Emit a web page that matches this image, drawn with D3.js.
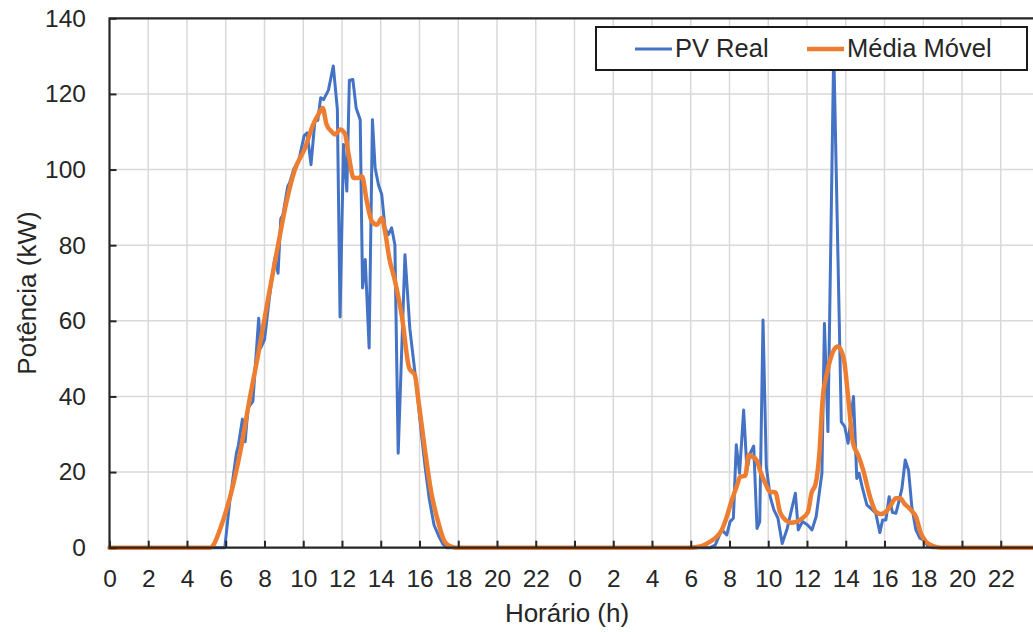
<!DOCTYPE html>
<html>
<head>
<meta charset="utf-8">
<script src="https://cdn.jsdelivr.net/npm/d3@7"></script>
<style>
body { margin: 0; background: #fff; }
text { font-family: "Liberation Sans", Arial, sans-serif; fill: #262626; }
</style>
</head>
<body>
<div id="chart"></div>
<script>
// PV Real (hora acumulada, kW) - segundo dia = 24 + h
var pvHours = [0, 5.75, 5.95, 6.2, 6.55, 6.65, 6.86, 7.0, 7.15, 7.4, 7.7, 7.8, 8.0, 8.25, 8.53, 8.7, 8.84, 8.95, 9.2, 9.3,
	9.53, 9.75, 10.05, 10.2, 10.4, 10.6, 10.75, 10.9, 11.05, 11.3, 11.55, 11.76, 11.9, 12.08, 12.25, 12.38, 12.56, 12.73, 12.94, 13.06,
	13.2, 13.4, 13.57, 13.71, 13.88, 14.05, 14.22, 14.39, 14.56, 14.73, 14.9, 15.25, 15.5, 15.75, 15.9, 16.1, 16.3, 16.5, 16.75, 17.0,
	17.2, 17.4,
	31.0, 31.26, 31.6, 31.86, 32.03, 32.2, 32.35, 32.52, 32.73, 32.9, 33.07, 33.25, 33.42, 33.56, 33.73, 33.9, 34.1, 34.29, 34.5, 34.72,
	34.98, 35.2, 35.4, 35.55, 35.77, 36.03, 36.26, 36.47, 36.77, 36.9, 37.08, 37.38, 37.77, 37.95, 38.12, 38.4, 38.57, 38.69, 38.85, 39.09,
	39.38, 39.55, 39.76, 39.9, 40.07, 40.24, 40.41, 40.59, 40.76, 40.9, 41.07, 41.24, 41.41, 41.62, 41.83, 42.05, 42.26, 42.5, 47.83];
var pvValues = [0, 0, 0, 12, 25, 27, 34, 28, 37, 38.7, 60.7, 52.8, 55, 66, 76.6, 72.6, 87, 88, 95.6, 96.5,
	100.4, 102, 109, 109.7, 101.3, 112.8, 113, 119, 118.5, 121, 127.4, 116, 61, 106.6, 94.3, 123.6, 123.8, 116.3, 113.2, 68.7,
	76.2, 52.8, 113.2, 100.4, 96, 93.4, 84.6, 82.8, 84.6, 80.1, 25, 77.5, 58, 47, 40, 30, 21, 13, 6, 3,
	1, 0,
	0, 0.7, 4.7, 3.4, 6.9, 7.8, 27.2, 19.7, 36.4, 20.5, 25, 26.9, 5.1, 6.9, 60.2, 21.4, 13.5, 10, 7.8, 1.1,
	5.1, 10, 14.4, 4.7, 6.9, 6, 4.7, 8.2, 19.7, 59.3, 30.7, 132, 33.3, 32, 27.6, 40, 18.3, 19.7, 16, 11.3,
	10, 9.1, 4, 7.3, 7.3, 13.5, 9.3, 9.1, 12.6, 15.7, 23.2, 20.5, 10.8, 4.7, 2.5, 1.9, 0.3, 0, 0];

// Média Móvel
var mmHours = [0, 5.2, 5.4, 5.6, 5.95, 6.38, 6.81, 7.24, 7.67, 8.19, 8.7, 9.14, 9.57, 10.09, 10.52, 10.78, 11.0, 11.2, 11.47, 11.64,
	11.9, 12.15, 12.34, 12.6, 12.85, 13.03, 13.28, 13.54, 13.8, 14.05, 14.22, 14.44, 14.74, 15.08, 15.47, 15.62, 15.76, 15.93, 16.27, 16.6,
	16.96, 17.3, 17.64, 17.9,
	29.96, 30.48, 31.0, 31.34, 31.6, 31.86, 32.12, 32.38, 32.55, 32.81, 32.99, 33.16, 33.39, 33.6, 33.85, 34.08, 34.37, 34.6, 34.9, 35.15,
	35.46, 35.76, 36.05, 36.23, 36.45, 36.64, 36.82, 36.99, 37.22, 37.39, 37.6, 37.91, 38.12, 38.38, 38.64, 38.9, 39.25, 39.55, 39.81, 40.07,
	40.33, 40.59, 40.81, 41.02, 41.36, 41.62, 41.88, 42.14, 42.48, 42.91, 47.83];
var mmValues = [0, 0, 1, 3.4, 8.6, 16.6, 27, 39.5, 51, 66, 80, 91.6, 100, 105.7, 112, 114.6, 116.3, 112, 110, 109.3,
	110.6, 109.5, 104, 97.8, 97.8, 98.2, 91.6, 86.3, 85.4, 87.2, 83.7, 76.6, 70.4, 61.6, 47.5, 46.5, 45.7, 39.5, 26.3, 14.8,
	6.9, 1.6, 0.3, 0,
	0, 0.3, 1.6, 2.9, 4.7, 8.2, 12.6, 16.3, 18.8, 19, 24.5, 24.1, 23.2, 20.1, 17, 14.8, 14.6, 9.5, 7.3, 6.6,
	6.9, 7.8, 9.5, 14.4, 17, 25, 40, 45.2, 50.1, 52.3, 53.2, 49.6, 40, 27.6, 24.5, 20.5, 13.5, 9.5, 8.9, 9.5,
	11.3, 13.1, 13.1, 11.7, 10, 8.2, 3.8, 1.6, 0.5, 0, 0];

var hourTicks = [0, 2, 4, 6, 8, 10, 12, 14, 16, 18, 20, 22, 24, 26, 28, 30, 32, 34, 36, 38, 40, 42, 44, 46];
var powerTicks = [0, 20, 40, 60, 80, 100, 120, 140];
var seriesNames = ["PV Real", "Média Móvel"];
var seriesColors = ["#4472C4", "#ED7D31"];

var W = 1033, H = 632;
var plotLeft = 109.5, plotTop = 18.3, plotBottom = 547.7;

var xScale = d3.scaleLinear()
				.domain([0, 48])
				.range([plotLeft, plotLeft + 48 * 19.375]);

var yScale = d3.scaleLinear()
				.domain([0, 140])
				.range([plotBottom, plotTop]);

var svg = d3.select("#chart").append("svg")
			.attr("width", W)
			.attr("height", H);

// gridlines
svg.append("g")
	.selectAll("line")
		.data(hourTicks.slice(1))
		.enter().append("line")
			.attr("x1", function(d) { return xScale(d); })
			.attr("x2", function(d) { return xScale(d); })
			.attr("y1", plotTop)
			.attr("y2", plotBottom)
			.style("stroke", "#d9d9d9")
			.style("stroke-width", 1.5);

svg.append("g")
	.selectAll("line")
		.data(powerTicks.slice(1, -1))
		.enter().append("line")
			.attr("x1", plotLeft)
			.attr("x2", W)
			.attr("y1", function(d) { return yScale(d); })
			.attr("y2", function(d) { return yScale(d); })
			.style("stroke", "#d9d9d9")
			.style("stroke-width", 1.5);

// series
var pvData = pvHours.map(function(h, i) { return [h, pvValues[i]]; });
var mmData = mmHours.map(function(h, i) { return [h, mmValues[i]]; });

var pvLine = d3.line()
			.x(function(d) { return xScale(d[0]); })
			.y(function(d) { return yScale(d[1]); });

var mmLine = d3.line()
			.curve(d3.curveMonotoneX)
			.x(function(d) { return xScale(d[0]); })
			.y(function(d) { return yScale(d[1]); });

svg.append("path")
	.datum(pvData)
	.attr("d", pvLine)
	.style("fill", "none")
	.style("stroke", seriesColors[0])
	.style("stroke-width", 3)
	.style("stroke-linejoin", "round");

svg.append("path")
	.datum(mmData)
	.attr("d", mmLine)
	.style("fill", "none")
	.style("stroke", seriesColors[1])
	.style("stroke-width", 4.5)
	.style("stroke-linejoin", "round")
	.style("stroke-linecap", "round");

// axes
var xAxis = svg.append("g")
	.attr("transform", "translate(0," + plotBottom + ")")
	.call(d3.axisBottom(xScale)
		.tickValues(hourTicks)
		.tickFormat(function(d) { return d % 24; })
		.tickSizeInner(-7)
		.tickSizeOuter(0)
		.tickPadding(21.5));

var yAxis = svg.append("g")
	.attr("transform", "translate(" + plotLeft + ",0)")
	.call(d3.axisLeft(yScale)
		.tickValues(powerTicks)
		.tickSizeInner(-7)
		.tickSizeOuter(0)
		.tickPadding(23.5));

[xAxis, yAxis].forEach(function(a) {
	a.selectAll("path").remove();
	a.selectAll("line").style("stroke", "#262626").style("stroke-width", 2);
	a.selectAll("text")
		.style("font-size", "24.5px")
		.style("font-family", "'Liberation Sans', Arial, sans-serif")
		.style("fill", "#262626");
});

// plot border
svg.append("path")
	.attr("d", "M" + W + "," + plotTop + "H" + plotLeft + "V" + plotBottom + "H" + W)
	.style("fill", "none")
	.style("stroke", "#262626")
	.style("stroke-width", 2.2);

// titles
svg.append("text")
	.attr("x", 567)
	.attr("y", 622)
	.attr("text-anchor", "middle")
	.style("font-size", "26px")
	.text("Horário (h)");

svg.append("text")
	.attr("transform", "translate(36," + ((plotTop + plotBottom) / 2 + 10) + ") rotate(-90)")
	.attr("text-anchor", "middle")
	.style("font-size", "26px")
	.text("Potência (kW)");

// legend
var legend = svg.append("g");
legend.append("rect")
	.attr("x", 596)
	.attr("y", 27)
	.attr("width", 431)
	.attr("height", 43)
	.style("fill", "#fff")
	.style("stroke", "#1a1a1a")
	.style("stroke-width", 2);

var legendX = [635, 807];
legend.selectAll("line")
	.data(seriesNames)
	.enter().append("line")
		.attr("x1", function(d, i) { return legendX[i]; })
		.attr("x2", function(d, i) { return legendX[i] + 37; })
		.attr("y1", 49)
		.attr("y2", 49)
		.style("stroke", function(d, i) { return seriesColors[i]; })
		.style("stroke-width", function(d, i) { return i == 0 ? 3 : 4.5; });

legend.selectAll("text")
	.data(seriesNames)
	.enter().append("text")
		.attr("x", function(d, i) { return legendX[i] + 40; })
		.attr("y", 57)
		.style("font-size", "25.5px")
		.text(function(d) { return d; });
</script>
</body>
</html>
